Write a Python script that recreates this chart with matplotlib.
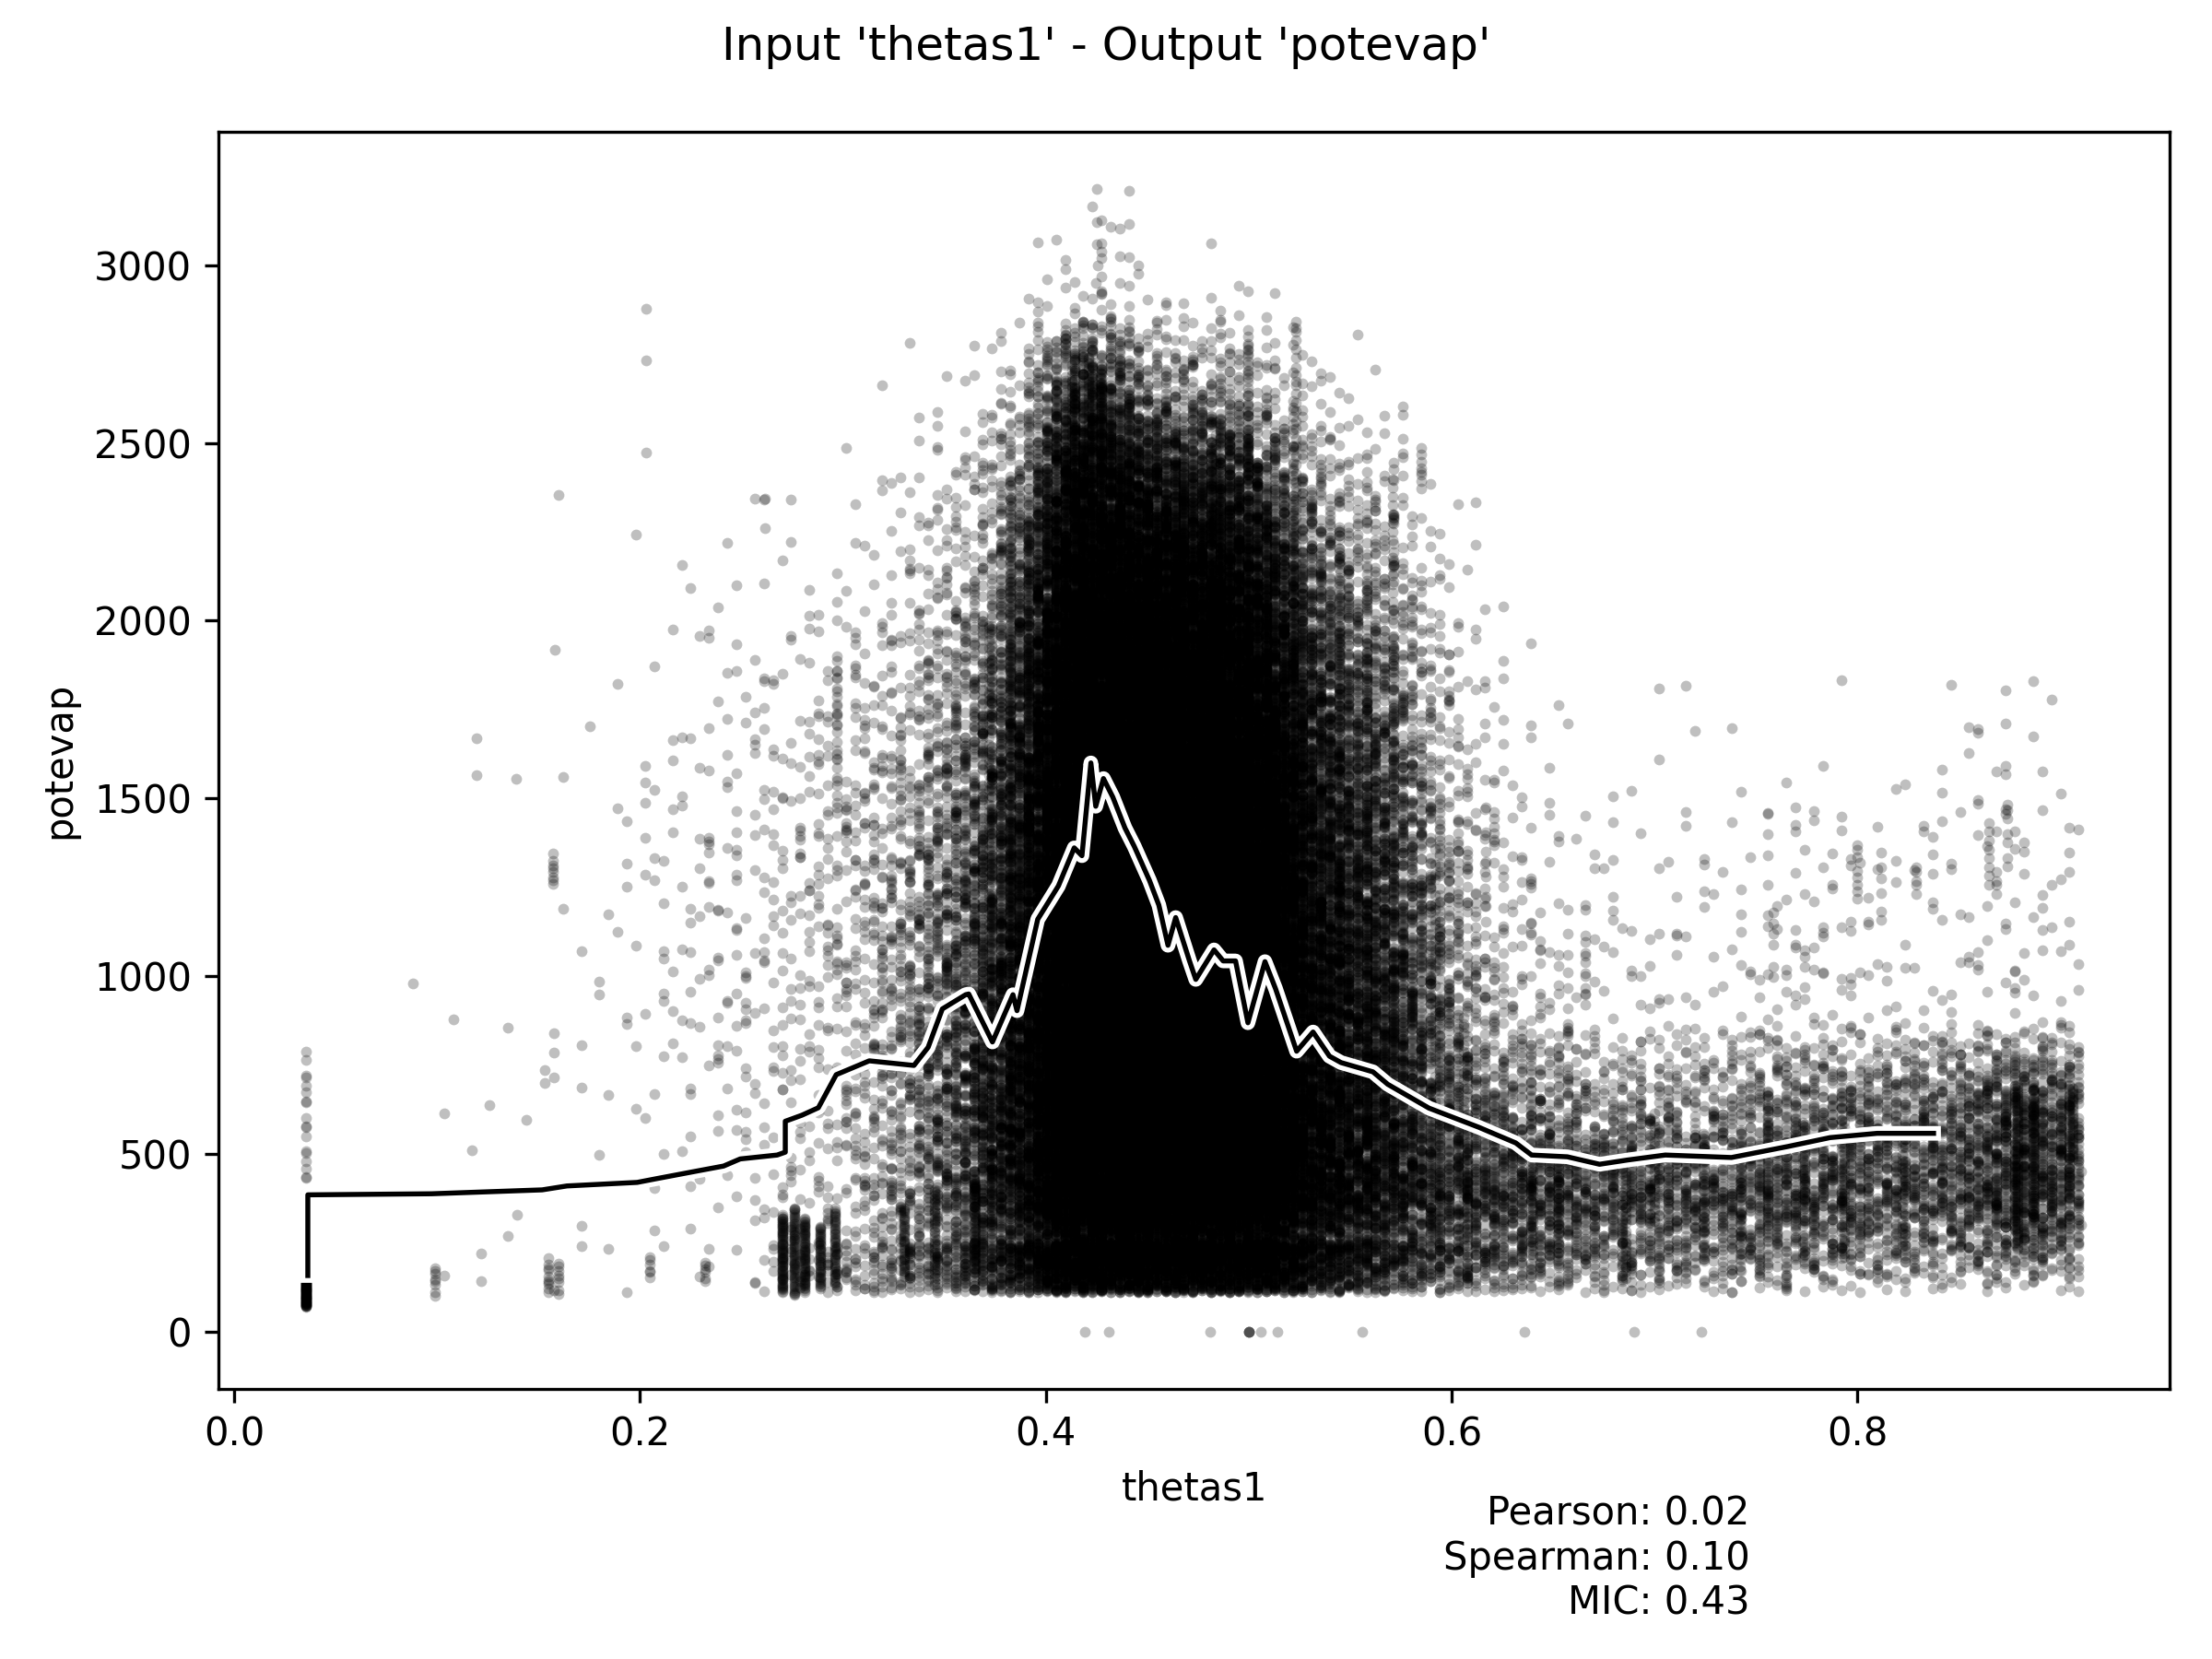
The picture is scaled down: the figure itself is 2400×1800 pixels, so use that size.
import numpy as np
import matplotlib
matplotlib.use("Agg")
import matplotlib.pyplot as plt
import matplotlib.patheffects as pe

# ---------------- data ----------------
# density of the point cloud: counts per cell (x bins of 0.02, y bands)
x_edges = [0.02, 0.04, 0.06, 0.08, 0.10, 0.12, 0.14, 0.16, 0.18, 0.20, 0.22, 0.24,
           0.26, 0.28, 0.30, 0.32, 0.34, 0.36, 0.38, 0.40, 0.42, 0.44, 0.46, 0.48,
           0.50, 0.52, 0.54, 0.56, 0.58, 0.60, 0.62, 0.64, 0.66, 0.68, 0.70, 0.72,
           0.74, 0.76, 0.78, 0.80, 0.82, 0.84, 0.86, 0.88, 0.90, 0.91]
y_edges = [110, 250, 500, 750, 1000, 1250, 1500, 1750, 2000, 2250, 2500, 2750, 3000, 3200]
cell_counts = [
    # 110  250  500  750 1000 1250 1500 1750 2000 2250 2500 2750 3000
    [0,   0,   0,   0,   0,   0,   0,   0,   0,   0,   0,   0,   0],   # 0.02
    [0,   0,   0,   0,   0,   0,   0,   0,   0,   0,   0,   0,   0],   # 0.04
    [0,   0,   0,   0,   0,   0,   0,   0,   0,   0,   0,   0,   0],   # 0.06
    [0,   0,   0,   0,   0,   0,   0,   0,   0,   0,   0,   0,   0],   # 0.08
    [1,   0,   2,   1,   0,   0,   0,   0,   0,   0,   0,   0,   0],   # 0.10
    [2,   1,   1,   0,   0,   0,   0,   0,   0,   0,   0,   0,   0],   # 0.12
    [1,   1,   3,   3,   0,   0,   0,   0,   0,   0,   0,   0,   0],   # 0.14
    [1,   1,   2,   2,   3,   1,   0,   0,   0,   0,   0,   0,   0],   # 0.16
    [1,   1,   2,   3,   3,   3,   4,   0,   0,   0,   0,   0,   0],   # 0.18
    [1,   2,   4,   6,   6,   6,   5,   2,   1,   0,   0,   0,   0],   # 0.20
    [2,   4,   6,  10,  10,   8,   5,   5,   2,   0,   0,   0,   0],   # 0.22
    [2,   6,  10,  12,  14,  12,  10,   6,   2,   1,   0,   0,   0],   # 0.24
    [15, 20,  12,  15,  15,  15,  10,   6,   3,   1,   0,   0,   0],   # 0.26
    [20, 25,  20,  20,  25,  25,  20,  15,   2,   0,   0,   0,   0],   # 0.28
    [45, 45,  40,  40,  40,  35,  30,  18,   8,   2,   0,   0,   0],   # 0.30
    [55, 90,  80,  80,  75,  55,  40,  25,  15,   6,   2,   0,   0],   # 0.32
    [70, 160, 150, 150, 135, 110, 90,  60,  35,  15,   4,   0,   0],   # 0.34
    [120, 300, 290, 270, 240, 190, 155, 110, 60, 38,  10,   0,   0],   # 0.36
    [180, 500, 520, 520, 480, 430, 380, 310, 200, 120, 40,   3,   0],   # 0.38
    [330, 1050, 1100, 1100, 1100, 1050, 1000, 900, 750, 520, 260, 20, 2],   # 0.40
    [330, 1200, 1250, 1250, 1250, 1250, 1100, 1000, 850, 620, 300, 30, 5],  # 0.42
    [330, 1200, 1250, 1250, 1250, 1250, 1100, 1000, 800, 480, 120, 8, 0],   # 0.44
    [300, 1120, 1200, 1200, 1200, 1150, 1050, 900, 680, 380, 90,  4,  0],   # 0.46
    [300, 1120, 1200, 1120, 1120, 1100, 980, 830, 650, 380, 100,  6,  0],   # 0.48
    [300, 1050, 1120, 1050, 1050, 950, 820, 630, 430, 220, 40,   2,  0],   # 0.50
    [190, 650, 650, 600, 550, 480, 400, 300, 190, 80,  14,   0,  0],   # 0.52
    [140, 480, 460, 410, 370, 310, 250, 180, 100, 35,   6,   0,  0],   # 0.54
    [100, 400, 360, 320, 270, 225, 170, 110, 65,  25,   2,   0,  0],   # 0.56
    [75, 300, 220, 170, 130,  90,  58,  35,  14,   4,   0,   0,  0],   # 0.58
    [55, 280, 150,  70,  45,  28,  16,   8,   4,   0,   0,   0,  0],   # 0.60
    [45, 260, 125,  35,  22,  13,   8,   3,   0,   0,   0,   0,  0],   # 0.62
    [35, 240, 105,  25,  12,   6,   3,   0,   0,   0,   0,   0,  0],   # 0.64
    [28, 210,  75,  12,  10,   4,   1,   0,   0,   0,   0,   0,  0],   # 0.66
    [28, 210,  75,  10,   6,   3,   2,   0,   0,   0,   0,   0,  0],   # 0.68
    [24, 200,  75,  10,   6,   3,   3,   0,   0,   0,   0,   0,  0],   # 0.70
    [20, 185,  75,   8,   5,   4,   2,   0,   0,   0,   0,   0,  0],   # 0.72
    [20, 200, 100,  12,   8,   5,   0,   0,   0,   0,   0,   0,  0],   # 0.74
    [18, 210, 125,  15,  12,  10,   0,   0,   0,   0,   0,   0,  0],   # 0.76
    [16, 200, 125,  12,  10,   8,   2,   0,   0,   0,   0,   0,  0],   # 0.78
    [14, 185, 125,   8,   6,   3,   0,   0,   0,   0,   0,   0,  0],   # 0.80
    [14, 185, 140,   8,   6,   6,   0,   0,   0,   0,   0,   0,  0],   # 0.82
    [12, 185, 150,   8,   6,   6,   5,   0,   0,   0,   0,   0,  0],   # 0.84
    [12, 260, 220,  10,   8,  10,  10,   0,   0,   0,   0,   0,  0],   # 0.86
    [12, 300, 250,  10,   8,   6,   3,   0,   0,   0,   0,   0,  0],   # 0.88
    [5,  100,  75,   4,   3,   3,   0,   0,   0,   0,   0,   0,  0],   # 0.90
]

# vertical streaks of repeated x values: x, y range, number of points
strip_x    = [0.0355, 0.0355, 0.099, 0.155, 0.160, 0.157, 0.205, 0.232,
              0.270, 0.276, 0.281, 0.289, 0.296, 0.297, 0.330, 0.345, 0.365,
              0.4835, 0.4997, 0.523, 0.585, 0.640, 0.686, 0.756, 0.7935,
              0.879, 0.887, 0.906, 0.617, 0.6658, 0.7587, 0.800, 0.8117,
              0.829, 0.865, 0.874, 0.545, 0.558, 0.571, 0.592, 0.606,
              0.372, 0.383, 0.391, 0.652, 0.700, 0.724, 0.742, 0.773, 0.822,
              0.413, 0.421, 0.427]
strip_ylo  = [70, 150, 95, 110, 100, 1250, 150, 130,
              110, 100, 110, 120, 130, 1450, 150, 130, 160,
              1500, 1500, 1500, 2350, 200, 150, 250, 200,
              230, 280, 480, 1118, 944, 957, 1206, 1134,
              1195, 1257, 1300, 300, 250, 400, 250, 200,
              300, 500, 800, 180, 300, 200, 160, 200, 230,
              2300, 2300, 2400]
strip_yhi  = [140, 790, 185, 210, 200, 1350, 210, 210,
              330, 350, 320, 300, 350, 1900, 350, 400, 420,
              2560, 2793, 2850, 2520, 500, 450, 650, 600,
              700, 690, 690, 1495, 1118, 1231, 1382, 1357,
              1306, 1480, 1505, 2200, 1900, 2400, 1400, 900,
              2000, 2400, 2300, 520, 620, 560, 450, 600, 560,
              2720, 2750, 2700]
strip_n    = [70, 30, 8, 10, 8, 8, 6, 6,
              70, 60, 60, 45, 45, 20, 35, 35, 45,
              60, 80, 60, 6, 25, 25, 25, 30,
              70, 45, 30, 8, 6, 6, 8, 6,
              5, 8, 7, 90, 70, 70, 40, 30,
              90, 110, 80, 20, 20, 20, 18, 22, 20,
              40, 45, 35]

# isolated points
single_x = [0.2029, 0.2029, 0.2029, 0.1598, 0.2566, 0.2616, 0.2616, 0.158, 0.1194,
            0.1194, 0.139, 0.088, 0.425, 0.425, 0.425, 0.4255, 0.4245, 0.91, 0.91,
            0.419, 0.431, 0.481, 0.500, 0.500, 0.500, 0.500, 0.506, 0.514, 0.556,
            0.636, 0.690, 0.723]
single_y = [2877, 2733, 2474, 2353, 2343, 2343, 2261, 1917, 1669,
            1566, 1554, 981, 3215, 3120, 3060, 3000, 2950, 450, 300,
            0, 0, 0, 0, 0, 0, 0, 0, 0, 0,
            0, 0, 0]

# running-average curve
line_x = [0.0363, 0.0363, 0.0972, 0.1518, 0.1640, 0.1986, 0.2086, 0.2290, 0.2412,
          0.2494, 0.2676, 0.2716, 0.2716, 0.2798, 0.2879, 0.2967, 0.3130, 0.3350,
          0.3420, 0.3490, 0.3605, 0.3620, 0.3737, 0.3838, 0.3858, 0.3960, 0.4062,
          0.4140, 0.4178, 0.4222, 0.4246, 0.4284, 0.4330, 0.4390, 0.4436, 0.4511,
          0.4557, 0.4602, 0.4640, 0.4708, 0.4739, 0.4829, 0.4874, 0.4935, 0.4996,
          0.5080, 0.5132, 0.5236, 0.5317, 0.5398, 0.5455, 0.5612, 0.5685, 0.5888,
          0.6134, 0.6316, 0.6394, 0.6570, 0.6729, 0.6867, 0.7053, 0.7379, 0.7657,
          0.7865, 0.8097, 0.8375]
line_y = [158, 385, 388, 399, 410, 420, 431, 453, 466,
          486, 497, 505, 592, 609, 630, 723, 762, 749,
          800, 908, 948, 950, 815, 948, 903, 1160, 1254,
          1361, 1339, 1600, 1478, 1556, 1504, 1417, 1365, 1269,
          1200, 1087, 1165, 1043, 991, 1074, 1043, 1043, 869,
          1041, 965, 789, 843, 775, 757, 731, 696, 629,
          575, 531, 497, 492, 471, 483, 497, 490, 521,
          546, 558, 558]

title = "Input 'thetas1' - Output 'potevap'"
stats_text = "Pearson: 0.02\nSpearman: 0.10\nMIC: 0.43"

# ---------------- expand the cloud description into points ----------------
def radical_inverse(i, base):
    f, r = 1.0, 0.0
    while i > 0:
        f /= base
        r += f * (i % base)
        i //= base
    return r

X_STEP = 0.0045   # streak spacing along x
xs, ys = [], []
k = 1
for bi in range(len(x_edges) - 1):
    x0, x1 = x_edges[bi], x_edges[bi + 1]
    w = x1 - x0
    for yi in range(len(y_edges) - 1):
        n = cell_counts[bi][yi]
        y0, y1 = y_edges[yi], y_edges[yi + 1]
        h = y1 - y0
        for _ in range(n):
            u = radical_inverse(k, 2)
            a = radical_inverse(k, 5)
            v = radical_inverse(k, 3)
            b = radical_inverse(k, 7)
            k += 1
            x = x0 + (u + a - 0.5) * w
            if x > 0.91:
                x = 1.82 - x
            x = round(x / X_STEP) * X_STEP
            if yi == 0:
                y = y0 + v * h
            else:
                y = y0 + (v + b - 0.5) * h
            xs.append(x)
            ys.append(y)

for sx, lo, hi, n in zip(strip_x, strip_ylo, strip_yhi, strip_n):
    for j in range(n):
        v = radical_inverse(k, 3)
        k += 1
        xs.append(sx)
        ys.append(lo + v * (hi - lo))

xs.extend(single_x)
ys.extend(single_y)

# ---------------- figure ----------------
fig = plt.figure(figsize=(8, 6), dpi=300)
ax = fig.add_axes([0.0988, 0.163, 0.8822, 0.7577])

ax.scatter(xs, ys, s=8, c="black", alpha=0.25, linewidths=0, zorder=2)
ax.plot(line_x, line_y, color="black", lw=1.3, zorder=3,
        path_effects=[pe.Stroke(linewidth=3.8, foreground="white"), pe.Normal()])

ax.set_xlim(-0.0077, 0.954)
ax.set_ylim(-160, 3376)
ax.set_xticks([0.0, 0.2, 0.4, 0.6, 0.8])
ax.set_yticks([0, 500, 1000, 1500, 2000, 2500, 3000])
ax.set_xlabel("thetas1")
ax.set_ylabel("potevap")

fig.suptitle(title, fontsize=12, y=0.985)
fig.text(0.791, 0.022, stats_text, ha="right", va="bottom", fontsize=10,
         multialignment="right")

fig.savefig("out.png", dpi=300)
